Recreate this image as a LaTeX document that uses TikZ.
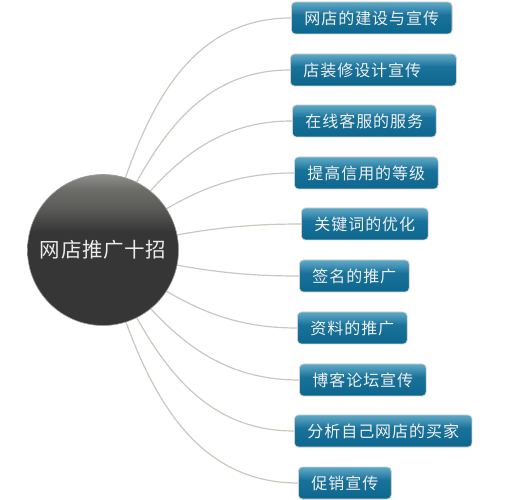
\documentclass[tikz,border=0pt]{standalone}
\usepackage{fontspec}
\newfontfamily\cjk[LetterSpace=6]{Noto Sans CJK SC}
\newfontfamily\cjkball[LetterSpace=3]{Noto Sans CJK SC}
\usepackage{xcolor}
\usetikzlibrary{positioning, backgrounds, shapes.geometric}

\definecolor{balllight}{HTML}{8E8E8A}
\definecolor{ballmid}{HTML}{6C6C68}
\definecolor{balldark}{HTML}{363636}
\definecolor{tiptop}{HTML}{5DA8C6}
\definecolor{tipmid}{HTML}{1A729A}
\definecolor{tipbot}{HTML}{0C668E}
\definecolor{wire}{HTML}{C8C8C0}

\pgfdeclareverticalshading{ballshade}{100bp}{color(0bp)=(balldark); color(56bp)=(balldark); color(64bp)=(ballmid!70!balldark); color(70bp)=(ballmid); color(75bp)=(balllight); color(100bp)=(balllight)}
\pgfdeclareverticalshading{tipshade}{100bp}{color(0bp)=(tipbot); color(25bp)=(tipbot); color(55bp)=(tipmid); color(68bp)=(tiptop!70!tipmid); color(75bp)=(tiptop); color(100bp)=(tiptop)}

\tikzset{
  tip/.style={anchor=west, shape=rectangle, rounded corners=4pt, draw=black!18, line width=.8pt,
    shading=tipshade, text=white!94!black, font=\cjk\fontsize{16}{18}\selectfont,
    minimum height=32pt, inner xsep=13pt},
  wirestyle/.style={color=wire, line width=1.2pt}
}

\begin{document}
\begin{tikzpicture}[x=1pt,y=-1pt]
    \useasboundingbox (0,0) rectangle (507,500);
    \node (n) at (103,250) [shape=circle, minimum size=151pt, inner sep=0pt, shading=ballshade, draw=black!40, line width=.6pt, text=white!92!black, font=\cjkball\fontsize{20.5}{22}\selectfont] {网店推广十招}; %
    \node (n1) at (291,18) [tip] {网店的建设与宣传}; %
    \node (n2) at (290,70) [tip, text width=140pt, align=left] {店装修设计宣传}; %
    \node (n3) at (292,121) [tip] {在线客服的服务}; %
    \node (n4) at (294,173) [tip] {提高信用的等级}; %
    \node (n5) at (301,224) [tip] {关键词的优化}; %
    \node (n6) at (299,276) [tip] {签名的推广}; %
    \node (n7) at (297,328) [tip] {资料的推广}; %
    \node (n8) at (299,380) [tip] {博客论坛宣传}; %
    \node (n9) at (294,431) [tip] {分析自己网店的买家}; %
    \node (n10) at (298,483) [tip] {促销宣传}; %

    %%%% arcs
    \begin{scope}[on background layer]
    \draw [wirestyle,out=74,in=180] (n.center) to (n1.west); %
    \draw [wirestyle,out=65,in=180] (n.center) to (n2.west); %
    \draw [wirestyle,out=53,in=180] (n.center) to (n3.west); %
    \draw [wirestyle,out=34,in=180] (n.center) to (n4.west); %
    \draw [wirestyle,out=12,in=180] (n.center) to (n5.west); %
    \draw [wirestyle,out=-12,in=180] (n.center) to (n6.west); %
    \draw [wirestyle,out=-34,in=180] (n.center) to (n7.west); %
    \draw [wirestyle,out=-53,in=180] (n.center) to (n8.west); %
    \draw [wirestyle,out=-65,in=180] (n.center) to (n9.west); %
    \draw [wirestyle,out=-74,in=180] (n.center) to (n10.west); %
    \end{scope}
\end{tikzpicture}
\end{document}
